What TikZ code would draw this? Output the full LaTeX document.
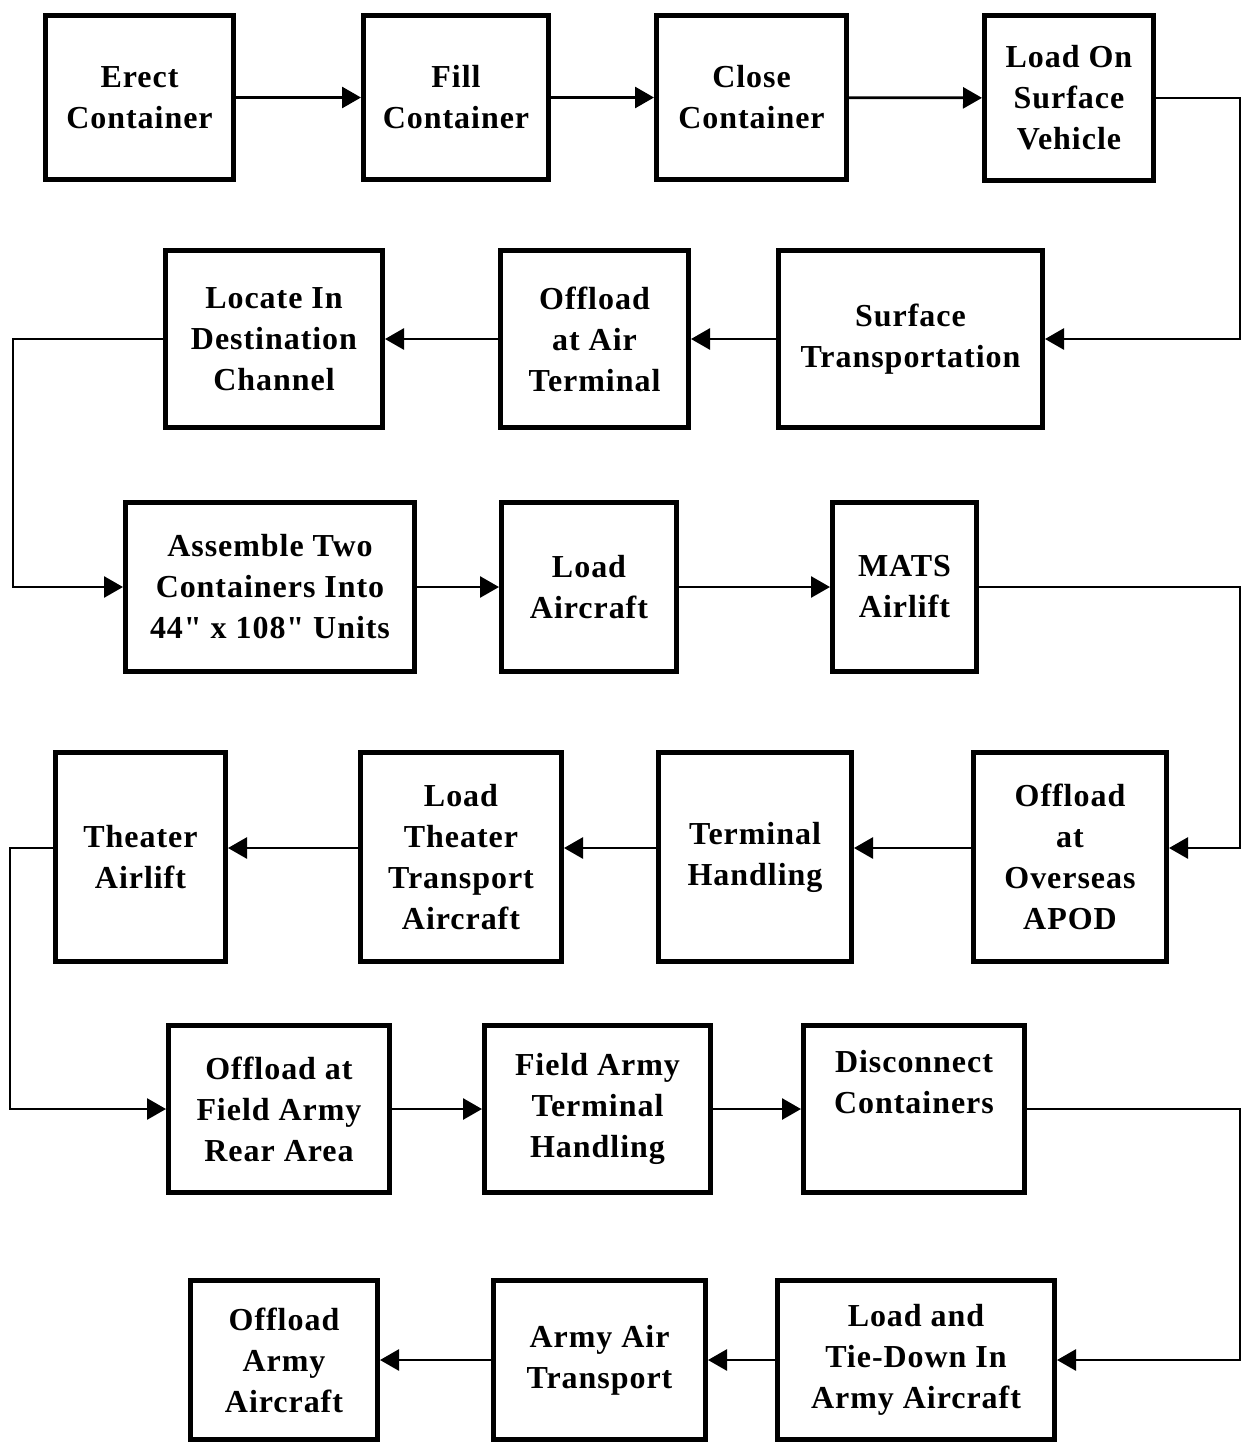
\documentclass[tikz,border=0pt]{standalone}
\usepackage{fontspec}
\setmainfont{Liberation Serif}[LetterSpace=3, Ligatures=TeXOff]
\usetikzlibrary{arrows.meta}
\begin{document}
\begin{tikzpicture}[x=1pt,y=-1pt,
  box/.style={draw, line width=5pt, align=center, inner sep=0pt,
    font=\fontsize{32}{41}\selectfont\bfseries},
  conn/.style={line width=2.8pt, -{Triangle[length=19pt,width=21pt]}}]
\useasboundingbox (0,0) rectangle (1251,1444);
\fill[white] (0,0) rectangle (1251,1444);
% row 1
\node[box, minimum width=188pt, minimum height=164pt] (erect) at (139.5,97.5) {Erect\\Container};
\node[box, minimum width=185pt, minimum height=164pt] (fill) at (456,97.5) {Fill\\Container};
\node[box, minimum width=190pt, minimum height=164pt] (close) at (751.5,97.5) {Close\\Container};
\node[box, minimum width=169pt, minimum height=165pt] (loadon) at (1069,98) {Load On\\Surface\\Vehicle};
% row 2
\node[box, minimum width=264pt, minimum height=177pt] (surface) at (910.5,339) {Surface\\Transportation};
\node[box, minimum width=188pt, minimum height=177pt] (offair) at (594.5,339) {Offload\\at Air\\Terminal};
\node[box, minimum width=217pt, minimum height=177pt] (locate) at (274,339) {Locate In\\Destination\\Channel};
% row 3
\node[box, minimum width=289pt, minimum height=169pt] (assemble) at (270,587) {Assemble Two\\Containers Into\\44" x 108" Units};
\node[box, minimum width=175pt, minimum height=169pt] (loadair) at (589,587) {Load\\Aircraft};
\node[box, minimum width=144pt, minimum height=169pt] (mats) at (904.5,587) {MATS\\Airlift};
% row 4
\node[box, minimum width=193pt, minimum height=209pt] (apod) at (1070,857) {Offload\\at\\Overseas\\APOD};
\node[box, minimum width=193pt, minimum height=209pt] (termh) at (755,857) {Terminal\\Handling};
\node[box, minimum width=201pt, minimum height=209pt] (loadtheater) at (461,857) {Load\\Theater\\Transport\\Aircraft};
\node[box, minimum width=170pt, minimum height=209pt] (theater) at (140.5,857) {Theater\\Airlift};
% row 5
\node[box, minimum width=221pt, minimum height=167pt] (rear) at (279,1109) {Offload at\\Field Army\\Rear Area};
\node[box, minimum width=226pt, minimum height=167pt] (fieldterm) at (597.5,1109) {Field Army\\Terminal\\Handling};
\node[box, minimum width=221pt, minimum height=167pt] (disconnect) at (914,1109) {Disconnect\\Containers\\\strut};
% row 6
\node[box, minimum width=277pt, minimum height=159pt] (tiedown) at (916,1360) {Load and\\Tie-Down In\\Army Aircraft};
\node[box, minimum width=212pt, minimum height=159pt] (armyair) at (599.5,1360) {Army Air\\Transport};
\node[box, minimum width=187pt, minimum height=159pt] (offarmy) at (284,1360) {Offload\\Army\\Aircraft};
% turn coordinates
\coordinate (rx) at (1240,0);
\coordinate (lx1) at (13,0);
\coordinate (lx2) at (10,0);
% connectors
\draw[conn] (erect) -- (fill);
\draw[conn] (fill) -- (close);
\draw[conn] (close) -- (loadon);
\draw[conn] (loadon.east) -- (loadon.east -| rx) |- (surface.east);
\draw[conn] (surface) -- (offair);
\draw[conn] (offair) -- (locate);
\draw[conn] (locate.west) -- (locate.west -| lx1) |- (assemble.west);
\draw[conn] (assemble) -- (loadair);
\draw[conn] (loadair) -- (mats);
\draw[conn] (mats.east) -- (mats.east -| rx) |- ([yshift=9pt]apod.east);
\draw[conn] ([yshift=9pt]apod.west) -- ([yshift=9pt]termh.east);
\draw[conn] ([yshift=9pt]termh.west) -- ([yshift=9pt]loadtheater.east);
\draw[conn] ([yshift=9pt]loadtheater.west) -- ([yshift=9pt]theater.east);
\draw[conn] ([yshift=9pt]theater.west) -- ([yshift=9pt]theater.west -| lx2) |- (rear.west);
\draw[conn] (rear) -- (fieldterm);
\draw[conn] (fieldterm) -- (disconnect);
\draw[conn] (disconnect.east) -- (disconnect.east -| rx) |- (tiedown.east);
\draw[conn] (tiedown) -- (armyair);
\draw[conn] (armyair) -- (offarmy);
\end{tikzpicture}
\end{document}
